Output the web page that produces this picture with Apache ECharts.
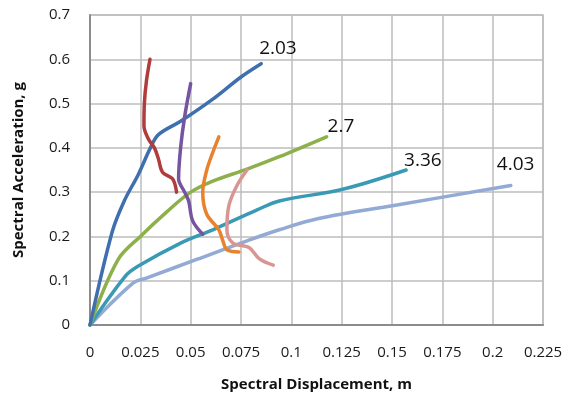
<!DOCTYPE html>
<html>
<head>
<meta charset="utf-8">
<script src="https://cdn.jsdelivr.net/npm/echarts@6/dist/echarts.min.js"></script>
<style>html,body{margin:0;padding:0;background:#fff}#c{width:576px;height:397px}</style>
</head>
<body>
<div id="c"></div>
<script>
// Tick values
var xTicks = [0, 0.025, 0.05, 0.075, 0.1, 0.125, 0.15, 0.175, 0.2, 0.225];
var yTicks = [0, 0.1, 0.2, 0.3, 0.4, 0.5, 0.6, 0.7];

// Capacity curves (labelled)
var curve203 = [[0,0],[0.011,0.21],[0.017,0.28],[0.024,0.34],[0.030,0.40],[0.034,0.43],[0.045,0.46],[0.061,0.51],[0.075,0.56],[0.085,0.59]];
var curve27  = [[0,0],[0.014,0.148],[0.025,0.20],[0.038,0.255],[0.050,0.30],[0.061,0.325],[0.078,0.352],[0.094,0.38],[0.1175,0.425]];
var curve336 = [[0,0],[0.0175,0.11],[0.024,0.133],[0.045,0.185],[0.061,0.215],[0.083,0.26],[0.094,0.28],[0.126,0.307],[0.157,0.35]];
var curve403 = [[0,0],[0.0215,0.095],[0.028,0.106],[0.053,0.148],[0.078,0.19],[0.094,0.215],[0.113,0.24],[0.151,0.27],[0.209,0.315]];

// Demand curves
var demandRed    = [[0.0298,0.60],[0.028,0.55],[0.027,0.50],[0.0268,0.45],[0.029,0.42],[0.032,0.40],[0.034,0.375],[0.036,0.345],[0.041,0.33],[0.043,0.30]];
var demandPurple = [[0.050,0.545],[0.047,0.47],[0.045,0.40],[0.044,0.33],[0.047,0.30],[0.049,0.28],[0.051,0.235],[0.056,0.205]];
var demandOrange = [[0.064,0.425],[0.061,0.39],[0.058,0.35],[0.056,0.30],[0.058,0.25],[0.064,0.215],[0.066,0.19],[0.068,0.17],[0.074,0.165]];
var demandPink   = [[0.078,0.35],[0.073,0.315],[0.069,0.27],[0.068,0.215],[0.071,0.185],[0.079,0.175],[0.084,0.15],[0.091,0.135]];

var labels = ['2.03', '2.7', '3.36', '4.03'];

var FONT = 'Open Sans';
function line(data, color, z, label, offset) {
  var s = {
    type: 'line', data: data, smooth: 0.35, showSymbol: false, symbol: 'none',
    lineStyle: {color: color, width: 3.5, cap: 'round'}, z: z, silent: true
  };
  if (label) {
    s.endLabel = {show: true, formatter: label, color: '#111', fontSize: 19,
      fontFamily: FONT, offset: offset, distance: 2};
  }
  return s;
}

var chart = echarts.init(document.getElementById('c'));
chart.setOption({
  animation: false,
  backgroundColor: '#fff',
  grid: {left: 90, right: 33, top: 15, bottom: 72, show: true, borderColor: '#bdbdbd', borderWidth: 1.5},
  xAxis: {
    type: 'value', min: 0, max: 0.225, interval: 0.025,
    name: 'Spectral Displacement, m', nameLocation: 'middle', nameGap: 52,
    nameTextStyle: {fontFamily: FONT, fontWeight: 'bold', fontSize: 15, color: '#111'},
    axisLine: {show: true, lineStyle: {color: '#8c8c8c', width: 2}},
    axisTick: {show: false},
    axisLabel: {fontFamily: FONT, fontSize: 15, color: '#1a1a1a', margin: 20,
      formatter: function (v) { return String(+v.toFixed(3)); }},
    splitLine: {show: true, lineStyle: {color: '#bcbcbc', width: 1.5}}
  },
  yAxis: {
    type: 'value', min: 0, max: 0.7, interval: 0.1,
    name: 'Spectral Acceleration, g', nameLocation: 'middle', nameGap: 64,
    nameTextStyle: {fontFamily: FONT, fontWeight: 'bold', fontSize: 15, color: '#111'},
    axisLine: {show: true, lineStyle: {color: '#8c8c8c', width: 2}},
    axisTick: {show: false},
    axisLabel: {fontFamily: FONT, fontSize: 15, color: '#1a1a1a', margin: 20,
      formatter: function (v) { return String(+v.toFixed(1)); }},
    splitLine: {show: true, lineStyle: {color: '#bcbcbc', width: 1.5}}
  },
  series: [
    line(curve403, '#92AAD4', 2, labels[3], [-16, -21]),
    line(curve336, '#3A9AB5', 3, labels[2], [-4, -9]),
    line(curve27,  '#8DB04A', 4, labels[1], [-1, -10]),
    line(curve203, '#3F6FAE', 5, labels[0], [-4, -15]),
    line(demandRed,    '#B03C3C', 6),
    line(demandPurple, '#7655A0', 6),
    line(demandOrange, '#E8822E', 6),
    line(demandPink,   '#D99592', 6)
  ]
});
</script>
</body>
</html>
